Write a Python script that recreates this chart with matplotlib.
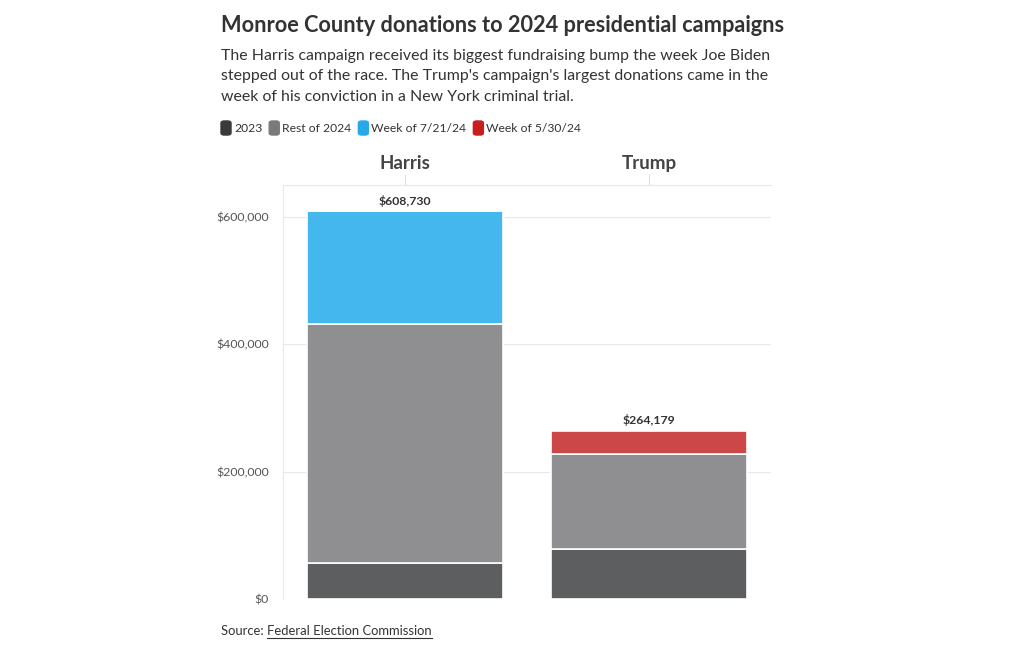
import matplotlib
matplotlib.use("Agg")
import matplotlib.pyplot as plt
from matplotlib.patches import FancyBboxPatch
from matplotlib.ticker import FuncFormatter
import numpy as np

plt.rcParams["font.family"] = ["Lato", "DejaVu Sans"]

# Data
candidates = ["Harris", "Trump"]
series = ["2023", "Rest of 2024", "Week of 7/21/24", "Week of 5/30/24"]
val_2023 = [56500, 78500]
val_rest = [375900, 149200]
val_week_jul = [176330, 0]
val_week_may = [0, 36479]
totals = [608730, 264179]
yticks = [0, 200000, 400000, 600000]

legend_colors = ["#3a3a3a", "#7a7a7a", "#26a9e6", "#c81e1e"]
bar_colors = ["#5d5e60", "#8f8f91", "#45b7ef", "#cc4748"]

W, H = 1020, 650
fig = plt.figure(figsize=(W / 100, H / 100), dpi=100)

def fx(px):
    return px / W

def fy(py):
    return 1 - py / H

ax = fig.add_axes([fx(283), fy(599), fx(771) - fx(283), fy(185) - fy(599)])

x = np.arange(len(candidates))
bottom = np.zeros(len(candidates))
for vals, col in zip([val_2023, val_rest, val_week_jul, val_week_may], bar_colors):
    vals = np.array(vals, dtype=float)
    ax.bar(x, vals, width=0.8, bottom=bottom, color=col,
           edgecolor="white", linewidth=1.2, zorder=3)
    bottom += vals

for xi, t in zip(x, totals):
    ax.text(xi, t + 7000, f"${t:,}", ha="center", va="bottom",
            fontsize=8.8, fontweight="bold", color="#333333")

ax.set_xlim(-0.5, 1.5)
ax.set_ylim(0, 650000)
ax.set_yticks(yticks)
ax.yaxis.set_major_formatter(FuncFormatter(lambda v, p: f"${int(v):,}"))
ax.tick_params(axis="y", length=0, pad=10, labelsize=8.9, labelcolor="#555555")
ax.set_xticks([])
ax.grid(axis="y", color="#e8e8e8", linewidth=0.8, zorder=0)
for s in ["right", "bottom"]:
    ax.spines[s].set_visible(False)
ax.spines["left"].set_color("#e8e8e8")
ax.spines["top"].set_color("#e8e8e8")
ax.spines["left"].set_linewidth(0.8)
ax.spines["top"].set_linewidth(0.8)

# Panel headers with small ticks
for xi, name in zip(x, candidates):
    ax.text(xi, 1.053, name, transform=ax.get_xaxis_transform(), ha="center",
            va="center", fontsize=13.5, fontweight="bold", color="#444444")
    ax.plot([xi, xi], [1.0, 1.024], transform=ax.get_xaxis_transform(),
            color="#e0e0e0", linewidth=0.8, clip_on=False)

# Title and subtitle
fig.text(fx(221), fy(25), "Monroe County donations to 2024 presidential campaigns",
         fontsize=15.7, fontweight="bold", color="#333333", va="center")
subtitle = ("The Harris campaign received its biggest fundraising bump the week Joe Biden\n"
            "stepped out of the race. The Trump's campaign's largest donations came in the\n"
            "week of his conviction in a New York criminal trial.")
fig.text(fx(221), fy(49), subtitle, fontsize=11.45, color="#333333", va="top",
         linespacing=1.57)

# Legend
fig.canvas.draw()
renderer = fig.canvas.get_renderer()
cur = 221
for lab, col in zip(series, legend_colors):
    box = FancyBboxPatch((fx(cur), fy(135)), fx(10), fy(121) - fy(135),
                         boxstyle="round,pad=0,rounding_size=0.003",
                         transform=fig.transFigure, color=col)
    fig.patches.append(box)
    t = fig.text(fx(cur + 13), fy(128), lab, fontsize=8.7, color="#333333",
                 va="center")
    bb = t.get_window_extent(renderer)
    cur = bb.x1 + 7

# Source
s1 = fig.text(fx(221), fy(631), "Source: ", fontsize=9.4, color="#333333", va="center")
bb = s1.get_window_extent(renderer)
s2 = fig.text(bb.x1 / W, fy(631), "Federal Election Commission", fontsize=9.4,
              color="#333333", va="center")
bb2 = s2.get_window_extent(renderer)
fig.add_artist(plt.Line2D([bb2.x0 / W, bb2.x1 / W], [fy(638), fy(638)],
                          transform=fig.transFigure, color="#333333", linewidth=0.8))

fig.savefig("out.png", dpi=100)
